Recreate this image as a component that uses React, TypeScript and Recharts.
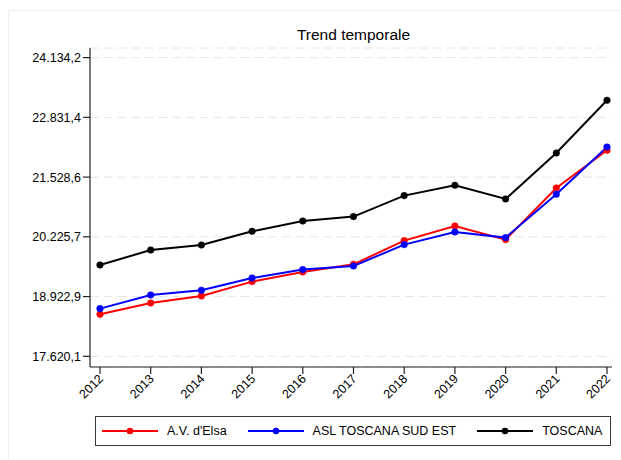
import { LineChart, Line, XAxis, YAxis, CartesianGrid } from 'recharts'

const years = [2012, 2013, 2014, 2015, 2016, 2017, 2018, 2019, 2020, 2021, 2022]
const avElsa = [18536, 18783, 18936, 19249, 19459, 19627, 20143, 20462, 20165, 21291, 22113]
const aslSudEst = [18660, 18957, 19059, 19328, 19511, 19589, 20056, 20331, 20209, 21153, 22185]
const toscana = [19611, 19938, 20047, 20346, 20571, 20667, 21125, 21350, 21051, 22054, 23203]
const yTicks = [17620.1, 18922.9, 20225.7, 21528.6, 22831.4, 24134.2]

const series = [
  { key: 'avElsa', name: "A.V. d'Elsa", color: '#ff0000' },
  { key: 'aslSudEst', name: 'ASL TOSCANA SUD EST', color: '#0000ff' },
  { key: 'toscana', name: 'TOSCANA', color: '#000000' }
]

const data = years.map((year, i) => ({
  year,
  avElsa: avElsa[i],
  aslSudEst: aslSudEst[i],
  toscana: toscana[i]
}))

// italian number format: 24.134,2
const fmt = (v: number) => {
  const [int, dec] = v.toFixed(1).split('.')
  return int.replace(/\B(?=(\d{3})+(?!\d))/g, '.') + ',' + dec
}

const XTick = (props: any) => {
  const { x, y, payload } = props
  return (
    <g transform={`translate(${x + 4},${y + 3.5})`}>
      <text x={0} y={0} textAnchor="end" transform="rotate(-45)" fontSize={12.5} fill="#000">
        {payload.value}
      </text>
    </g>
  )
}

export default function App() {
  return (
    <div
      style={{
        position: 'absolute',
        left: 0,
        top: 0,
        width: 621,
        height: 460,
        overflow: 'hidden',
        background: '#fff',
        fontFamily: '"Liberation Sans", Arial, sans-serif'
      }}
    >
      <div
        style={{
          position: 'absolute',
          left: 8,
          top: 10,
          width: 630,
          height: 470,
          border: '1.5px solid #eaf1f1'
        }}
      />
      <div
        style={{
          position: 'absolute',
          left: 90,
          top: 26,
          width: 527,
          textAlign: 'center',
          fontSize: 15.5,
          lineHeight: '18px',
          color: '#000'
        }}
      >
        Trend temporale
      </div>
      <div style={{ position: 'absolute', left: 0, top: 0 }}>
        <LineChart width={621} height={460} data={data} margin={{ top: 48, right: 9, bottom: 53, left: 0 }}>
          <CartesianGrid horizontal vertical={false} stroke="#e6e6e6" strokeDasharray="9 4.7" />
          <XAxis
            dataKey="year"
            height={40}
            padding={{ left: 10, right: 5 }}
            tick={<XTick />}
            tickSize={7}
            tickMargin={2}
            interval={0}
            axisLine={{ stroke: '#222', strokeWidth: 1.2 }}
            tickLine={{ stroke: '#222', strokeWidth: 1.2 }}
          />
          <YAxis
            width={90}
            domain={[17387, 24344]}
            ticks={yTicks}
            tickFormatter={fmt}
            tickSize={7}
            tickMargin={2}
            interval={0}
            tick={{ fontSize: 12.5, fill: '#000' }}
            axisLine={{ stroke: '#222', strokeWidth: 1.2 }}
            tickLine={{ stroke: '#222', strokeWidth: 1.2 }}
            allowDataOverflow
          />
          {series.map((s) => (
            <Line
              key={s.key}
              type="linear"
              dataKey={s.key}
              name={s.name}
              stroke={s.color}
              strokeWidth={2}
              dot={{ r: 3.3, fill: s.color, stroke: s.color, strokeWidth: 0.5 }}
              isAnimationActive={false}
            />
          ))}
        </LineChart>
      </div>
      <div
        style={{
          position: 'absolute',
          left: 95,
          top: 416,
          width: 516,
          height: 30,
          boxSizing: 'border-box',
          border: '1.5px solid #3a3a3a',
          display: 'flex',
          alignItems: 'center',
          paddingLeft: 6,
          gap: 21,
          fontSize: 12.5,
          color: '#000'
        }}
      >
        {series.map((s) => (
          <div key={s.key} style={{ display: 'flex', alignItems: 'center' }}>
            <svg width={56} height={10} style={{ marginRight: 9 }}>
              <line x1={0} y1={5} x2={56} y2={5} stroke={s.color} strokeWidth={2} />
              <circle cx={28} cy={5} r={3.3} fill={s.color} />
            </svg>
            <span style={{ whiteSpace: 'nowrap' }}>{s.name}</span>
          </div>
        ))}
      </div>
    </div>
  )
}
